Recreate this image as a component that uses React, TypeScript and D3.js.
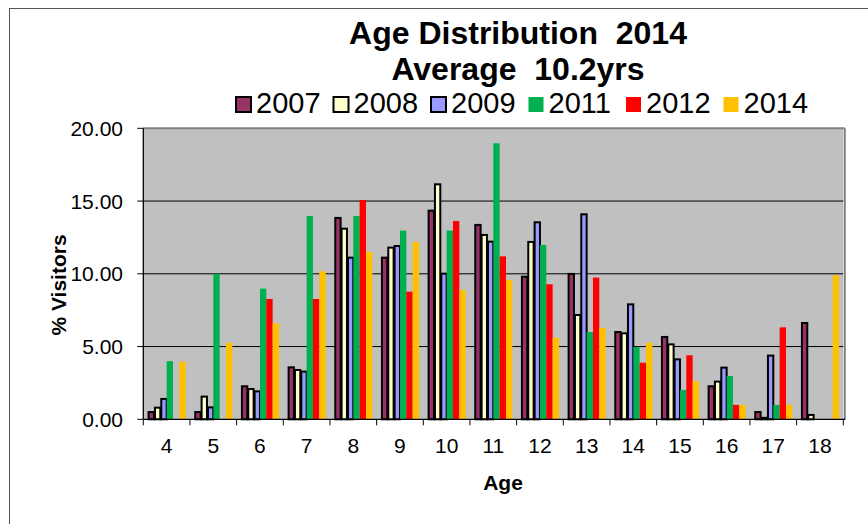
import React from 'react';
import * as d3 from 'd3';

const ages = ['4', '5', '6', '7', '8', '9', '10', '11', '12', '13', '14', '15', '16', '17', '18'];
const seriesNames = ['2007', '2008', '2009', '2011', '2012', '2014'];
const seriesColors = ['#993366', '#FFFFCC', '#9999FF', '#00B050', '#FF0000', '#FFC000'];
const outlined = ['2007', '2008', '2009'];

const v2007 = [0.5, 0.5, 2.27, 3.57, 13.84, 11.11, 14.34, 13.36, 9.8, 9.99, 6.0, 5.66, 2.27, 0.5, 6.62];
const v2008 = [0.8, 1.56, 2.08, 3.39, 13.1, 11.8, 16.15, 12.67, 12.19, 7.17, 5.91, 5.15, 2.59, 0.1, 0.3];
const v2009 = [1.4, 0.82, 1.92, 3.28, 11.11, 11.91, 10.01, 12.21, 13.54, 14.09, 7.9, 4.12, 3.55, 4.38, 0];
const v2011 = [4.0, 10.0, 8.98, 13.97, 13.97, 12.97, 12.97, 18.97, 11.98, 6.0, 4.97, 2.02, 2.98, 0.99, 0];
const v2012 = [0, 0, 8.27, 8.27, 15.07, 8.77, 13.63, 11.2, 9.28, 9.74, 3.89, 4.4, 0.99, 6.32, 0];
const v2014 = [3.96, 5.27, 6.6, 10.17, 11.5, 12.19, 8.89, 9.58, 5.61, 6.28, 5.27, 2.63, 0.99, 0.99, 9.9];
const seriesValues = [v2007, v2008, v2009, v2011, v2012, v2014];

const yTicks = [0, 5, 10, 15, 20];

const FONT = "Arial, 'Liberation Sans', sans-serif";

export default function App() {
  const width = 868;
  const height = 524;
  const plot = { left: 143.3, right: 843.3, top: 128.3, bottom: 419.3 };

  const x0 = d3.scaleBand().domain(ages).range([plot.left, plot.right]).padding(0);
  const step = x0.step();
  const x1 = d3.scaleBand().domain(seriesNames).range([4.3, step - 4.3]).padding(0);
  const y = d3.scaleLinear().domain([0, 20]).range([plot.bottom, plot.top]);
  const color = d3.scaleOrdinal<string, string>().domain(seriesNames).range(seriesColors);

  return (
    <svg width={width} height={height} style={{ position: 'absolute', left: 0, top: 0, background: '#fff' }}
      fontFamily={FONT}>
      {/* chart border */}
      <rect x={9.5} y={8.5} width={900} height={600} fill="#fff" stroke="#555" strokeWidth={1} />

      {/* title, double spaces kept */}
      <text x={518} y={44} textAnchor="middle" fontSize={32} fontWeight="bold" style={{ whiteSpace: 'pre' }}>Age Distribution  2014</text>
      <text x={518} y={80} textAnchor="middle" fontSize={32} fontWeight="bold" style={{ whiteSpace: 'pre' }}>Average  10.2yrs</text>

      {/* legend */}
      {seriesNames.map((s, i) => {
        const lx = 236 + i * 97.5;
        const isOut = outlined.includes(s);
        return (
          <g key={`leg-${s}`}>
            <rect x={lx} y={97} width={15} height={15} fill={color(s)}
              stroke={isOut ? '#000' : 'none'} strokeWidth={isOut ? 2 : 0} />
            <text x={lx + 20} y={113} fontSize={29}>{s}</text>
          </g>
        );
      })}

      {/* plot area */}
      <rect x={plot.left} y={plot.top} width={plot.right - plot.left} height={plot.bottom - plot.top}
        fill="#C0C0C0" />
      {yTicks.filter(t => t > 0 && t < 20).map(t => (
        <line key={`grid-${t}`} x1={plot.left} x2={plot.right} y1={y(t)} y2={y(t)} stroke="#000" strokeWidth={1} />
      ))}
      <line x1={plot.left} x2={plot.right + 1.5} y1={plot.top} y2={plot.top} stroke="#808080" strokeWidth={2} />
      <line x1={plot.right + 1.5} x2={plot.right + 1.5} y1={plot.top} y2={plot.bottom} stroke="#808080" strokeWidth={2} />

      {/* bars */}
      {ages.map((a, ai) => (
        <g key={`age-${a}`} transform={`translate(${x0(a)},0)`}>
          {seriesNames.map((s, si) => {
            const v = seriesValues[si][ai];
            if (!v) return null;
            const isOut = outlined.includes(s);
            const bx = x1(s) as number;
            const bw = x1.bandwidth();
            if (isOut) {
              return (
                <rect key={`bar-${s}`} x={bx + 1} y={y(v)} width={bw - 1} height={plot.bottom - y(v)}
                  fill={color(s)} stroke="#000" strokeWidth={2} />
              );
            }
            return (
              <rect key={`bar-${s}`} x={bx} y={y(v)} width={bw} height={plot.bottom - y(v)} fill={color(s)} />
            );
          })}
        </g>
      ))}

      {/* axes */}
      <line x1={plot.left} x2={plot.left} y1={plot.top} y2={plot.bottom} stroke="#000" strokeWidth={1.3} />
      <line x1={plot.left} x2={plot.right + 2} y1={plot.bottom} y2={plot.bottom} stroke="#000" strokeWidth={1.3} />
      {yTicks.map(t => (
        <g key={`yt-${t}`}>
          <line x1={plot.left - 6} x2={plot.left} y1={y(t)} y2={y(t)} stroke="#000" strokeWidth={1} />
          <text x={123} y={y(t)} dy="0.36em" textAnchor="end" fontSize={21}>{t.toFixed(2)}</text>
        </g>
      ))}
      {[...ages.map(a => x0(a) as number), plot.right].map((tx, i) => (
        <line key={`xt-${i}`} x1={tx} x2={tx} y1={plot.bottom} y2={plot.bottom + 6} stroke="#000" strokeWidth={1} />
      ))}
      {ages.map(a => (
        <text key={`xl-${a}`} x={(x0(a) as number) + step / 2} y={453} textAnchor="middle" fontSize={21}>{a}</text>
      ))}

      {/* axis titles */}
      <text x={503} y={490} textAnchor="middle" fontSize={21} fontWeight="bold">Age</text>
      <text transform="translate(66,285) rotate(-90)" textAnchor="middle" fontSize={21} fontWeight="bold">% Visitors</text>
    </svg>
  );
}
